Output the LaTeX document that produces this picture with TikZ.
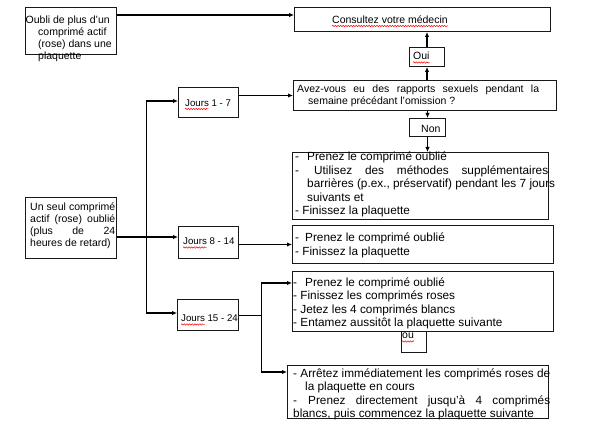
\documentclass[tikz,border=0pt]{standalone}
\usepackage{fontspec}
\setmainfont{Liberation Sans}
\usepackage{xcolor}
\usetikzlibrary{arrows.meta,decorations.pathmorphing}

\newcommand\fbig{\fontsize{11.8}{13.4}\selectfont}
\newcommand\fmid{\fontsize{10.5}{11.7}\selectfont}
\newcommand\fjours{\fontsize{9.7}{11}\selectfont}
\newcommand\dash[1]{\makebox[#1][l]{-}}
\newcommand\justline[2]{\makebox[#1][s]{\spaceskip=0pt\relax #2}}

\tikzset{
  box/.style={draw=black!90, line width=1pt, anchor=north west, inner sep=0pt},
  txt/.style={anchor=base west, inner sep=0pt},
  para/.style={txt, text width=#1, align=flush left},
  para/.default=270pt,
  arrowline/.style={line width=1.4pt, -{Latex[length=5pt,width=4.5pt]}},
  plainline/.style={line width=0.9pt},
  spell/.style={red, line width=0.5pt, decorate, decoration={snake, amplitude=0.7pt, segment length=2.6pt}},
}

\begin{document}
\begin{tikzpicture}[x=1pt,y=-1pt]
    \useasboundingbox (0,0) rectangle (598,430);
    % boxes
    \node[box, minimum width=91pt, minimum height=47pt] (oubli) at (25,7) {};
    \node[box, minimum width=256pt, minimum height=24pt] (cons) at (294,7) {};
    \node[box, minimum width=35pt, minimum height=19pt] (oui) at (409,47) {};
    \node[box, minimum width=263pt, minimum height=30pt] (avez) at (293,80) {};
    \node[box, minimum width=36pt, minimum height=18pt] (non) at (409,118) {};
    \node[box, minimum width=256pt, minimum height=67pt] (p1) at (292,152) {};
    \node[box, minimum width=261pt, minimum height=38pt] (p2) at (292,225) {};
    \node[box, minimum width=60pt, minimum height=30pt] (j17) at (178,87) {};
    \node[box, minimum width=91pt, minimum height=61pt] (seul) at (25,197) {};
    \node[box, minimum width=60pt, minimum height=32pt] (j814) at (178,226) {};
    \node[box, minimum width=61pt, minimum height=31pt] (j1524) at (177,299) {};
    \node[box, minimum width=261pt, minimum height=60pt] (p3) at (292,271) {};
    \node[box, minimum width=25pt, minimum height=21pt] (ou) at (401,331) {};
    \node[box, minimum width=261pt, minimum height=53pt] (arr) at (287,365) {};
    % texts
    \node[para=100pt, font=\fmid] (oubli-t) at (25.5,24) {Oubli de plus d'un\\
        \hspace*{12.5pt}comprimé actif\\ \hspace*{12.5pt}(rose) dans une\\ \hspace*{12.5pt}plaquette};
    \node[txt, font=\fmid] (cons-t) at (332,23.5) {Consultez votre médecin};
    \node[txt, font=\fmid] (oui-t) at (413,60) {Oui};
    \node[para, font=\fmid] (avez-t) at (297,93) {\justline{242pt}{Avez-vous eu des rapports sexuels pendant la}\\
        \hspace*{11pt}semaine précédant l'omission ?};
    \node[txt, font=\fmid] (non-t) at (421,132.5) {Non};
    \node[para, font=\fbig] (p1-t) at (295,161) {\dash{12pt}Prenez le comprimé oublié\\
        \justline{253pt}{\dash{12pt}\hspace*{7pt}Utilisez des méthodes supplémentaires}\\
        \hspace*{12pt}barrières (p.ex., préservatif) pendant les 7 jours\\
        \hspace*{12pt}suivants et\\
        - Finissez la plaquette};
    \node[para, font=\fbig] (p2-t) at (295,242) {\dash{10pt}Prenez le comprimé oublié\\ - Finissez la plaquette};
    \node[txt, font=\fjours] (j17-t) at (185,106.5) {Jours 1 - 7};
    \node[para=100pt, font=\fmid] (seul-t) at (30,211) {\justline{85pt}{Un seul comprimé}\\
        \justline{85pt}{actif (rose) oublié}\\ \justline{85pt}{(plus de 24}\\ heures de retard)};
    \node[txt, font=\fjours] (j814-t) at (183,245) {Jours 8 - 14};
    \node[txt, font=\fjours] (j1524-t) at (181,322) {Jours 15 - 24};
    \node[para, font=\fbig] (p3-t) at (293,286.5) {\dash{12pt}Prenez le comprimé oublié\\
        - Finissez les comprimés roses\\ - Jetez les 4 comprimés blancs\\
        - Entamez aussitôt la plaquette suivante};
    \node[txt, font=\fmid] (ou-t) at (402,339) {ou};
    \node[para, font=\fbig] (arr-t) at (293,377.5) {- Arrêtez immédiatement les comprimés roses de\\
        \hspace*{12pt}la plaquette en cours\\
        \justline{257pt}{\dash{15pt}Prenez directement jusqu'à 4 comprimés}\\
        blancs, puis commencez la plaquette suivante};
    % spelling marks
    \draw[spell] ([yshift=-2.5pt]cons-t.base west) -- ([yshift=-2.5pt]cons-t.base east);
    \draw[spell] ([yshift=-2.5pt]oui-t.base west) -- ([yshift=-2.5pt]oui-t.base east);
    \draw[spell] ([yshift=-2.5pt]ou-t.base west) -- ([yshift=-2.5pt]ou-t.base east);
    \foreach \j in {j17-t,j814-t,j1524-t}
        \draw[spell] ([yshift=-2.5pt]\j.base west) -- ([xshift=23.7pt,yshift=-2.5pt]\j.base west);
    % connectors
    \coordinate (top) at (146,101);
    \coordinate (bot) at (146,313);
    \coordinate (fork) at (261,315);
    \coordinate (forkt) at (261,283);
    \coordinate (forkb) at (261,372);
    \draw[arrowline] (oubli.east |- 0,15) -- (cons.west |- 0,15);
    \draw[arrowline] (oui.north) -- (oui.north |- cons.south);
    \draw[arrowline] (oui.south |- avez.north) -- (oui.south);
    \draw[arrowline] (non.north |- avez.south) -- (non.north);
    \draw[arrowline] (non.south) -- (non.south |- p1.north);
    \draw[arrowline] (j17.east |- avez.west) -- (avez.west);
    \draw[arrowline] (seul.east |- 0,237) -- (j814.west |- 0,237);
    \draw[arrowline] (j814.east |- p2.west) -- (p2.west);
    \draw[plainline] (top) -- (bot);
    \draw[arrowline] (top) -- (j17.west |- top);
    \draw[arrowline] (bot) -- (j1524.west |- bot);
    \draw[plainline] (j1524.east |- fork) -- (fork);
    \draw[plainline] (forkt) -- (forkb);
    \draw[arrowline] (forkt) -- (p3.west |- forkt);
    \draw[arrowline] (forkb) -- (arr.west |- forkb);
\end{tikzpicture}
\end{document}
